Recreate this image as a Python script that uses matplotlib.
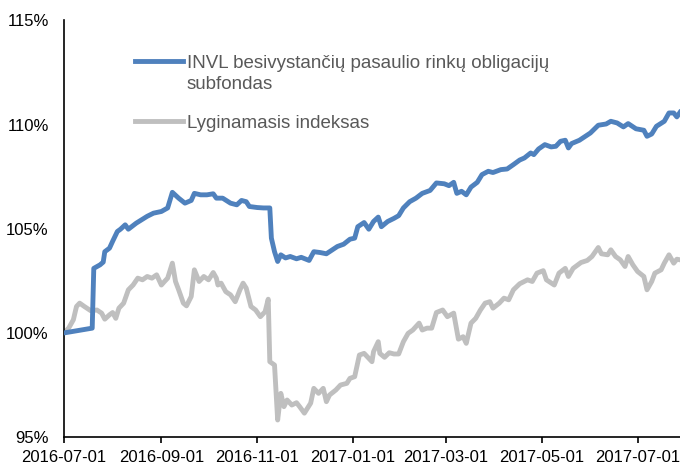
import matplotlib
matplotlib.use('Agg')
import matplotlib.pyplot as plt
import matplotlib.dates as mdates
import pandas as pd

plt.rcParams['font.family'] = ['Liberation Sans', 'DejaVu Sans']

# ── Data (% of start value) ──────────────────────────────────────
fund_dates = [
    '2016-07-01', '2016-07-19', '2016-07-20', '2016-07-24', '2016-07-26', '2016-07-27',
    '2016-07-30', '2016-08-01', '2016-08-04', '2016-08-06', '2016-08-09', '2016-08-11',
    '2016-08-16', '2016-08-23', '2016-08-27', '2016-09-01', '2016-09-05', '2016-09-08',
    '2016-09-12', '2016-09-16', '2016-09-20', '2016-09-22', '2016-09-26', '2016-09-30',
    '2016-10-04', '2016-10-06', '2016-10-10', '2016-10-15', '2016-10-19', '2016-10-22',
    '2016-10-25', '2016-10-27', '2016-11-01', '2016-11-05', '2016-11-09', '2016-11-10',
    '2016-11-12', '2016-11-14', '2016-11-16', '2016-11-19', '2016-11-22', '2016-11-26',
    '2016-11-29', '2016-12-04', '2016-12-07', '2016-12-11', '2016-12-15', '2016-12-17',
    '2016-12-22', '2016-12-26', '2016-12-30', '2017-01-02', '2017-01-04', '2017-01-08',
    '2017-01-11', '2017-01-14', '2017-01-17', '2017-01-19', '2017-01-23', '2017-01-27',
    '2017-01-30', '2017-02-02', '2017-02-06', '2017-02-10', '2017-02-14', '2017-02-19',
    '2017-02-23', '2017-02-28', '2017-03-03', '2017-03-06', '2017-03-08', '2017-03-11',
    '2017-03-14', '2017-03-17', '2017-03-21', '2017-03-24', '2017-03-28', '2017-03-31',
    '2017-04-05', '2017-04-09', '2017-04-13', '2017-04-17', '2017-04-20', '2017-04-24',
    '2017-04-26', '2017-04-29', '2017-05-03', '2017-05-07', '2017-05-10', '2017-05-13',
    '2017-05-16', '2017-05-18', '2017-05-20', '2017-05-25', '2017-05-28', '2017-06-01',
    '2017-06-06', '2017-06-11', '2017-06-14', '2017-06-18', '2017-06-22', '2017-06-25',
    '2017-06-30', '2017-07-05', '2017-07-07', '2017-07-10', '2017-07-13', '2017-07-18',
    '2017-07-21', '2017-07-24', '2017-07-26', '2017-07-28',
]
fund_values = [
    100.00, 100.23, 103.10, 103.27, 103.40, 103.90,
    104.07, 104.40, 104.87, 104.98, 105.19, 104.98,
    105.27, 105.60, 105.75, 105.83, 106.00, 106.75,
    106.47, 106.23, 106.36, 106.70, 106.63, 106.63,
    106.68, 106.47, 106.47, 106.23, 106.15, 106.36,
    106.30, 106.07, 106.02, 106.00, 106.00, 104.55,
    103.90, 103.43, 103.75, 103.60, 103.67, 103.56,
    103.63, 103.48, 103.90, 103.86, 103.80, 103.90,
    104.15, 104.26, 104.50, 104.55, 105.10, 105.30,
    104.98, 105.35, 105.56, 105.10, 105.35, 105.50,
    105.63, 106.00, 106.30, 106.47, 106.70, 106.84,
    107.20, 107.16, 107.07, 107.23, 106.70, 106.80,
    106.63, 107.00, 107.23, 107.60, 107.76, 107.70,
    107.84, 107.87, 108.08, 108.30, 108.40, 108.64,
    108.56, 108.83, 109.04, 108.93, 108.96, 109.20,
    109.25, 108.88, 109.09, 109.25, 109.40, 109.60,
    109.97, 110.03, 110.16, 110.08, 109.89, 110.05,
    109.80, 109.73, 109.44, 109.55, 109.92, 110.16,
    110.56, 110.56, 110.37, 110.59,
]

index_dates = [
    '2016-07-01', '2016-07-04', '2016-07-07', '2016-07-09', '2016-07-11', '2016-07-14',
    '2016-07-18', '2016-07-22', '2016-07-25', '2016-07-27', '2016-07-30', '2016-08-01',
    '2016-08-03', '2016-08-05', '2016-08-08', '2016-08-11', '2016-08-14', '2016-08-17',
    '2016-08-20', '2016-08-23', '2016-08-26', '2016-08-29', '2016-09-01', '2016-09-03',
    '2016-09-05', '2016-09-08', '2016-09-10', '2016-09-12', '2016-09-15', '2016-09-17',
    '2016-09-20', '2016-09-22', '2016-09-25', '2016-09-28', '2016-10-01', '2016-10-04',
    '2016-10-06', '2016-10-07', '2016-10-09', '2016-10-12', '2016-10-15', '2016-10-18',
    '2016-10-21', '2016-10-23', '2016-10-25', '2016-10-28', '2016-10-31', '2016-11-03',
    '2016-11-06', '2016-11-08', '2016-11-09', '2016-11-12', '2016-11-14', '2016-11-16',
    '2016-11-18', '2016-11-20', '2016-11-23', '2016-11-26', '2016-11-28', '2016-12-01',
    '2016-12-05', '2016-12-07', '2016-12-10', '2016-12-13', '2016-12-15', '2016-12-17',
    '2016-12-21', '2016-12-24', '2016-12-28', '2016-12-30', '2017-01-02', '2017-01-05',
    '2017-01-08', '2017-01-13', '2017-01-14', '2017-01-17', '2017-01-18', '2017-01-21',
    '2017-01-24', '2017-01-27', '2017-01-30', '2017-02-02', '2017-02-05', '2017-02-08',
    '2017-02-12', '2017-02-14', '2017-02-17', '2017-02-20', '2017-02-23', '2017-02-27',
    '2017-03-02', '2017-03-06', '2017-03-09', '2017-03-12', '2017-03-14', '2017-03-17',
    '2017-03-20', '2017-03-23', '2017-03-26', '2017-03-29', '2017-03-31', '2017-04-04',
    '2017-04-07', '2017-04-10', '2017-04-13', '2017-04-17', '2017-04-22', '2017-04-25',
    '2017-04-28', '2017-05-02', '2017-05-04', '2017-05-09', '2017-05-12', '2017-05-16',
    '2017-05-18', '2017-05-21', '2017-05-26', '2017-05-30', '2017-06-02', '2017-06-06',
    '2017-06-08', '2017-06-12', '2017-06-14', '2017-06-17', '2017-06-20', '2017-06-23',
    '2017-06-25', '2017-06-28', '2017-07-01', '2017-07-05', '2017-07-07', '2017-07-10',
    '2017-07-12', '2017-07-16', '2017-07-18', '2017-07-21', '2017-07-24', '2017-07-26',
    '2017-07-28',
]
index_values = [
    100.00, 100.23, 100.63, 101.27, 101.43, 101.27,
    101.07, 101.10, 100.95, 100.66, 100.87, 100.98,
    100.70, 101.19, 101.43, 102.07, 102.30, 102.63,
    102.55, 102.71, 102.63, 102.79, 102.30, 102.47,
    102.63, 103.35, 102.47, 102.07, 101.43, 101.30,
    101.75, 103.03, 102.47, 102.71, 102.55, 102.90,
    102.63, 102.30, 102.39, 101.98, 101.83, 101.50,
    102.07, 102.39, 102.15, 101.27, 101.10, 100.78,
    101.02, 101.62, 98.62, 98.46, 95.82, 97.10,
    96.46, 96.78, 96.54, 96.65, 96.46, 96.15,
    96.63, 97.34, 97.10, 97.34, 96.70, 97.02,
    97.26, 97.50, 97.58, 97.82, 97.90, 98.94,
    99.02, 98.62, 99.10, 99.58, 99.02, 98.83,
    99.05, 98.99, 98.99, 99.58, 99.98, 100.14,
    100.47, 100.14, 100.23, 100.23, 100.98, 101.10,
    100.78, 100.95, 99.70, 99.82, 99.50, 100.47,
    100.70, 101.10, 101.43, 101.50, 101.19, 101.43,
    101.67, 101.59, 102.07, 102.36, 102.55, 102.47,
    102.87, 102.99, 102.55, 102.30, 102.87, 103.10,
    102.71, 103.10, 103.38, 103.48, 103.67, 104.10,
    103.80, 103.75, 103.99, 103.67, 103.51, 103.19,
    103.67, 103.27, 102.95, 102.71, 102.07, 102.47,
    102.87, 103.03, 103.35, 103.75, 103.35, 103.54,
    103.51,
]

fund_label = 'INVL besivystančių pasaulio rinkų obligacijų\nsubfondas'
index_label = 'Lyginamasis indeksas'
y_ticks = [95, 100, 105, 110, 115]

# ── Plot ─────────────────────────────────────────────────────────
fig = plt.figure(figsize=(6.8, 4.65), dpi=100)
ax = fig.add_axes([0.094, 0.060, 0.906, 0.896])

ax.plot(pd.to_datetime(fund_dates), fund_values, color='#4F81BD', lw=3.5,
        solid_joinstyle='round', label=fund_label, zorder=3)
ax.plot(pd.to_datetime(index_dates), index_values, color='#BFBFBF', lw=3.5,
        solid_joinstyle='round', label=index_label, zorder=2)

ax.set_xlim(pd.Timestamp('2016-07-01'), pd.Timestamp('2017-07-28'))
ax.set_ylim(95, 115)
ax.set_yticks(y_ticks)
ax.yaxis.set_major_formatter(plt.FuncFormatter(lambda v, p: f'{v:.0f}%'))
ax.xaxis.set_major_locator(mdates.MonthLocator(bymonth=[1, 3, 5, 7, 9, 11]))
ax.xaxis.set_major_formatter(mdates.DateFormatter('%Y-%m-%d'))

ax.tick_params(axis='y', length=0, pad=11, labelsize=12, colors='#000000')
ax.tick_params(axis='x', length=4, width=1.2, direction='out', pad=5, labelsize=12)
ax.spines[['top', 'right']].set_visible(False)
for s in ['left', 'bottom']:
    ax.spines[s].set_linewidth(1.2)

# ── Legend ───────────────────────────────────────────────────────
leg = ax.legend(loc='upper left', bbox_to_anchor=(0.115, 0.918), frameon=False,
                fontsize=13.5, handlelength=2.56, handletextpad=0.2,
                labelspacing=1.15, borderpad=0, borderaxespad=0)
for t in leg.get_texts():
    t.set_color('#595959')
    t.set_linespacing(1.35)
# keep the blue key level with the first line of its two-line label
fund_key = leg.get_lines()[0]
fund_key.set_ydata([y + 9.5 for y in fund_key.get_ydata()])

fig.savefig('out.png', dpi=100)
